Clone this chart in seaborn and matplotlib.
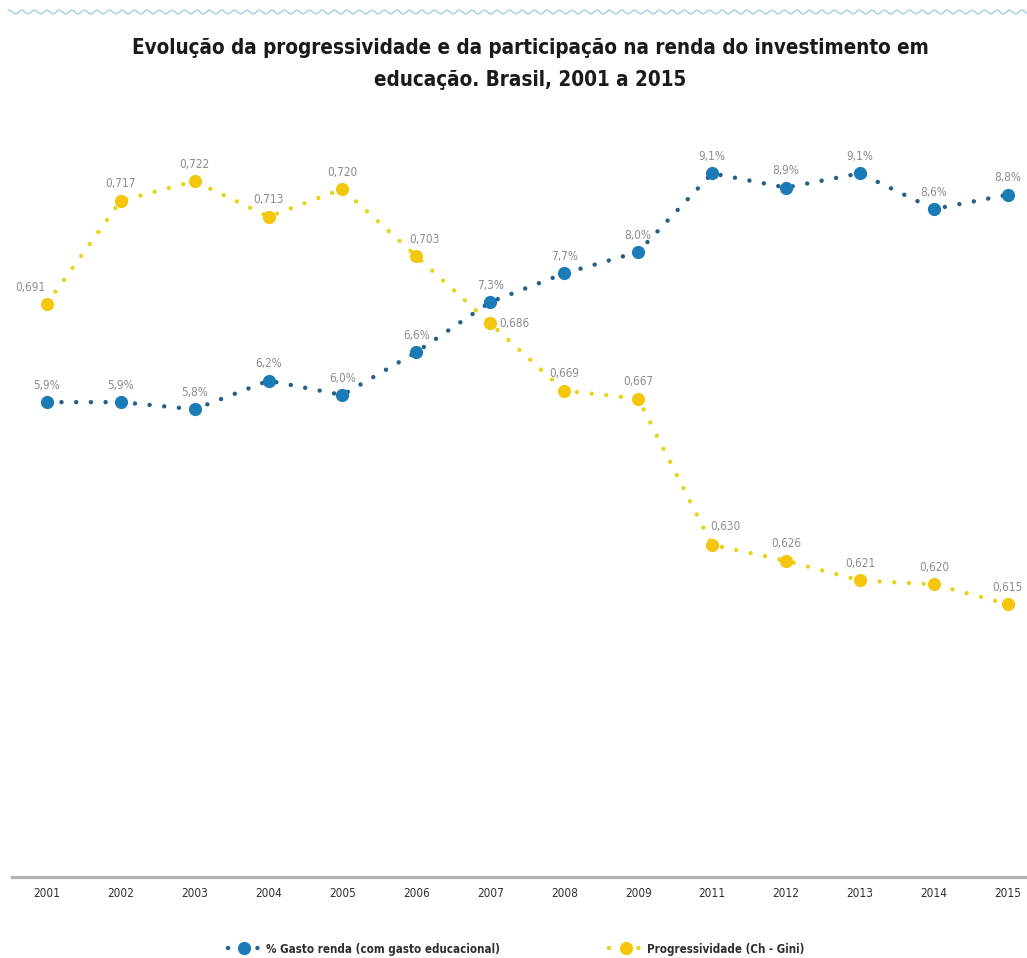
import numpy as np
import pandas as pd
import matplotlib
matplotlib.use("Agg")
import matplotlib.pyplot as plt
import seaborn as sns
from matplotlib.lines import Line2D

# ---------------- data ----------------
years = ["2001", "2002", "2003", "2004", "2005", "2006", "2007", "2008",
         "2009", "2011", "2012", "2013", "2014", "2015"]
gasto = [5.9, 5.9, 5.8, 6.2, 6.0, 6.6, 7.3, 7.7, 8.0, 9.1, 8.9, 9.1, 8.6, 8.8]
progressividade = [0.691, 0.717, 0.722, 0.713, 0.720, 0.703, 0.686, 0.669,
                   0.667, 0.630, 0.626, 0.621, 0.620, 0.615]
series_names = ["% Gasto renda (com gasto educacional)", "Progressividade (Ch - Gini)"]
title_lines = ["Evolução da progressividade e da participação na renda do investimento em",
               "educação. Brasil, 2001 a 2015"]

# ---------------- style ----------------
sns.set_theme(style="white")
plt.rcParams["font.family"] = ["DejaVu Sans"]
plt.rcParams["font.stretch"] = "condensed"

BLUE_M = "#1b7bb6"
BLUE_L = "#245f88"
YEL_M = "#f4c60c"
YEL_L = "#e4d61e"
LABEL_C = "#8c8c8c"

W, H = 1027, 958
fig = plt.figure(figsize=(W / 100, H / 100), dpi=100)
fig.patch.set_facecolor("white")

top_px, bot_px, left_px = 140, 877, 12
ax = fig.add_axes([left_px / W, 1 - bot_px / H, 1 - left_px / W, (bot_px - top_px) / H])
ax2 = ax.twinx()

df = pd.DataFrame({"pos": np.arange(len(years)), "year": years,
                   "gasto": gasto, "prog": progressividade})

dot_style = dict(linestyle=(0, (0.01, 3.3)), dash_capstyle="round", linewidth=3.2,
                 marker="o", markersize=9.5, markeredgewidth=0)

sns.lineplot(data=df, x="pos", y="gasto", ax=ax, color=BLUE_L,
             markerfacecolor=BLUE_M, zorder=3, **dot_style)
sns.lineplot(data=df, x="pos", y="prog", ax=ax2, color=YEL_L,
             markerfacecolor=YEL_M, zorder=3, **dot_style)

ax.set_xlim(-0.47, 13.26)
ax.set_ylim(-0.741, 9.566)
ax2.set_ylim(0.546, 0.7324)

# ---------------- labels ----------------
def fmt(v, dec, pct=False):
    s = f"{v:.{dec}f}".replace(".", ",")
    return s + ("%" if pct else "")

default_off = (0, 12.2)
yel_off = {0: (-12, 11.5), 5: (5.8, 12.2), 6: (17, 0), 9: (9.4, 13)}
for i, v in enumerate(gasto):
    ax.annotate(fmt(v, 1, True), (i, v), xytext=default_off, textcoords="offset points",
                ha="center", va="center", fontsize=8.5, color=LABEL_C, zorder=5)
for i, v in enumerate(progressividade):
    ax2.annotate(fmt(v, 3), (i, v), xytext=yel_off.get(i, default_off),
                 textcoords="offset points", ha="center", va="center",
                 fontsize=8.5, color=LABEL_C, zorder=5)

# ---------------- axes styling ----------------
ax.set_xticks(df["pos"])
ax.set_xticklabels(years, fontsize=8.5, color="#2e2e2e")
ax.tick_params(axis="x", length=0, pad=7)
ax.set_yticks([])
ax2.set_yticks([])
ax.set_xlabel("")
ax.set_ylabel("")
ax2.set_ylabel("")
for s in ["top", "left", "right"]:
    ax.spines[s].set_visible(False)
for s in ax2.spines.values():
    s.set_visible(False)
ax.spines["bottom"].set_color("#b3b3b3")
ax.spines["bottom"].set_linewidth(2.3)
ax.grid(False)
ax2.grid(False)

# ---------------- title ----------------
fig.text(530 / W, 1 - 48 / H, title_lines[0], ha="center", va="center",
         fontsize=14.8, fontweight="bold", color="#1a1a1a")
fig.text(530 / W, 1 - 80 / H, title_lines[1], ha="center", va="center",
         fontsize=14.8, fontweight="bold", color="#1a1a1a")

# ---------------- decorative wave ----------------
wx = np.arange(8, W, 0.5)
wy = 12 + 1.8 * np.sin(2 * np.pi * wx / 12.5)
fig.add_artist(Line2D(wx / W, 1 - wy / H, transform=fig.transFigure,
                      color="#a6d3e6", lw=1.1))

# ---------------- legend ----------------
handles = [
    Line2D([0], [0], color=BLUE_L, markerfacecolor=BLUE_M, **dot_style),
    Line2D([0], [0], color=YEL_L, markerfacecolor=YEL_M, **dot_style),
]
fig.legend(handles, series_names, loc="center", bbox_to_anchor=(516 / W, 1 - 949 / H),
           ncol=2, frameon=False, columnspacing=9.5, handlelength=2.9, handletextpad=0.4,
           borderpad=0, prop=dict(size=8.3, weight="bold"), labelcolor="#2e2e2e")

fig.savefig("out.png", dpi=100, facecolor="white")
